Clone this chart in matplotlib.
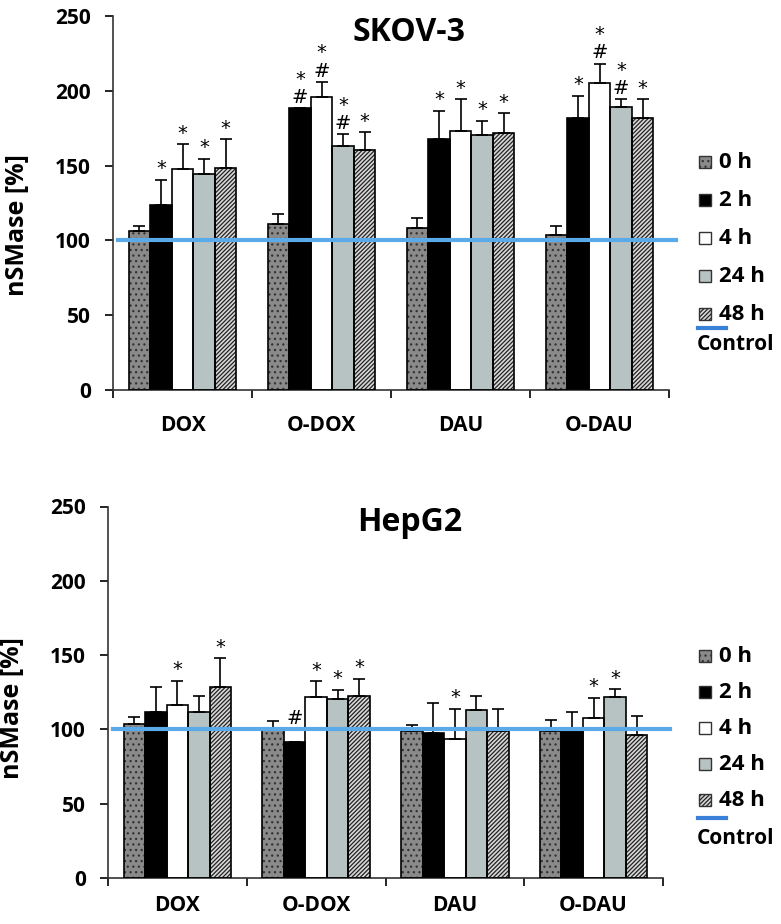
import numpy as np
import matplotlib
matplotlib.use("Agg")
import matplotlib.pyplot as plt
from matplotlib.patches import Rectangle
from matplotlib.lines import Line2D

# datos (nSMase en % del control)
drugs = ["DOX", "O-DOX", "DAU", "O-DAU"]
times = ["0 h", "2 h", "4 h", "24 h", "48 h"]

skov_mean = np.array([
    [106.4, 123.8, 147.6, 144.4, 148.4],
    [111.1, 188.2, 195.6, 163.3, 160.7],
    [108.4, 167.8, 173.3, 170.7, 171.8],
    [103.6, 181.8, 204.9, 188.9, 181.8],
])
skov_err = np.array([
    [2.9, 16.6, 16.6, 10.3, 19.2],
    [6.7, 0.0, 10.2, 7.6, 11.5],
    [6.9, 18.9, 20.9, 9.3, 13.1],
    [5.7, 14.9, 13.3, 5.3, 12.6],
])
skov_marks = [
    ["", "*", "*", "*", "*"],
    ["", "#*", "#*", "#*", "*"],
    ["", "*", "*", "*", "*"],
    ["", "*", "#*", "#*", "*"],
]

hep_mean = np.array([
    [103.3, 111.4, 116.3, 111.4, 128.6],
    [99.5, 91.5, 121.9, 120.5, 122.3],
    [98.7, 97.8, 93.8, 112.9, 99.1],
    [99.1, 98.7, 107.4, 122.1, 96.2],
])
hep_err = np.array([
    [5.0, 17.2, 16.3, 11.4, 19.4],
    [6.3, 0.0, 10.5, 6.3, 11.9],
    [4.0, 20.1, 20.0, 9.9, 14.7],
    [7.4, 13.3, 13.8, 4.9, 13.0],
])
hep_marks = [
    ["", "", "*", "", "*"],
    ["", "#", "*", "*", "*"],
    ["", "", "*", "", ""],
    ["", "", "*", "*", ""],
]

control = 100

# estilo de cada serie
faces = ["#8a8a8a", "black", "white", "#b7c3c2", "#d8d8d8"]
hatches = ["...", None, None, None, "////////"]
hatch_cols = ["#333333", "black", "black", "black", "#222222"]
line_blue = "#5aaaea"
leg_blue = "#3a80d8"

plt.rcParams["font.family"] = ["Open Sans", "DejaVu Sans"]
plt.rcParams["hatch.linewidth"] = 0.9

W, H = 781, 924
fig = plt.figure(figsize=(W / 100, H / 100), dpi=100)


def panel(ax, means, errs, marks, title, title_x, ylab_y, xpad):
    n = len(times)
    width = 0.155
    x = np.arange(len(drugs))
    for i in range(n):
        xi = x + (i - (n - 1) / 2) * width
        ax.bar(xi, means[:, i], width, color=faces[i], hatch=hatches[i],
               edgecolor=hatch_cols[i], linewidth=0, zorder=2)
        ax.bar(xi, means[:, i], width, fill=False, edgecolor="black",
               linewidth=1.2, zorder=3)
        ax.errorbar(xi, means[:, i], yerr=[np.zeros(len(drugs)), errs[:, i]],
                    fmt="none", ecolor="black", elinewidth=1.2, capsize=4,
                    capthick=1.2, zorder=4)
        for j in range(len(drugs)):
            m = marks[j][i]
            if m == "":
                continue
            txt = "\n".join(reversed(list(m)))
            # las marcas nunca quedan debajo de la linea de control
            base = max(means[j, i] + errs[j, i] + 1, control + 1)
            ax.text(xi[j], base, txt, ha="center",
                    va="bottom", fontsize=14, family="DejaVu Sans",
                    linespacing=0.95, zorder=5)

    ax.axhline(control, xmin=0.009, xmax=1.012, color=line_blue, lw=3,
               clip_on=False, zorder=6)

    ax.set_xlim(-0.5, len(drugs) - 0.5)
    ax.set_ylim(0, 250)
    ax.set_yticks(np.arange(0, 251, 50))
    ax.set_xticks(np.arange(len(drugs) + 1) - 0.5)
    ax.set_xticklabels([])
    ax.set_xticks(x, minor=True)
    ax.set_xticklabels(drugs, minor=True)
    ax.tick_params(axis="x", which="minor", length=0, pad=xpad,
                   labelsize=15)
    ax.tick_params(axis="x", which="major", length=6, width=1.2,
                   direction="out")
    ax.tick_params(axis="y", length=6, width=1.2, pad=10, labelsize=15)
    for lab in ax.get_xticklabels(minor=True) + ax.get_yticklabels():
        lab.set_fontweight("bold")
    for s in ["top", "right"]:
        ax.spines[s].set_visible(False)
    for s in ["left", "bottom"]:
        ax.spines[s].set_linewidth(1.2)
        ax.spines[s].set_color("#333333")

    ax.set_ylabel("nSMase [%]", fontsize=18, fontweight="bold")
    ax.yaxis.set_label_coords(-0.15, ylab_y)
    ax.text(title_x, 0.957, title, transform=ax.transAxes, ha="center",
            va="center", fontsize=23, fontweight="bold")


def legend(y0, step, y_line, y_ctrl):
    for i, lab in enumerate(times):
        yc = 1 - (y0 + i * step) / H
        w, h = 12 / W, 12 / H
        fig.add_artist(Rectangle((699 / W, yc - h / 2), w, h,
                                 transform=fig.transFigure, facecolor=faces[i],
                                 hatch=hatches[i], edgecolor=hatch_cols[i],
                                 linewidth=0))
        fig.add_artist(Rectangle((699 / W, yc - h / 2), w, h,
                                 transform=fig.transFigure, fill=False,
                                 edgecolor="#333333", linewidth=1.0))
        fig.text(719 / W, yc, lab, va="center", ha="left", fontsize=16,
                 fontweight="bold")
    yl = 1 - y_line / H
    fig.add_artist(Line2D([698 / W, 726 / W], [yl, yl],
                          transform=fig.transFigure, color=leg_blue, lw=3))
    fig.text(697 / W, 1 - y_ctrl / H, "Control", va="center", ha="left",
             fontsize=15, fontweight="bold")


ax1 = fig.add_axes([113 / W, 1 - 390 / H, 556 / W, 374 / H])
panel(ax1, skov_mean, skov_err, skov_marks, "SKOV-3", 0.532, 0.44, 18)
legend(162, 38, 328, 344)

ax2 = fig.add_axes([108 / W, 1 - 878 / H, 555 / W, 371.5 / H])
panel(ax2, hep_mean, hep_err, hep_marks, "HepG2", 0.544, 0.458, 12)
legend(656, 36, 818, 838)

fig.savefig("out.png", dpi=100)
